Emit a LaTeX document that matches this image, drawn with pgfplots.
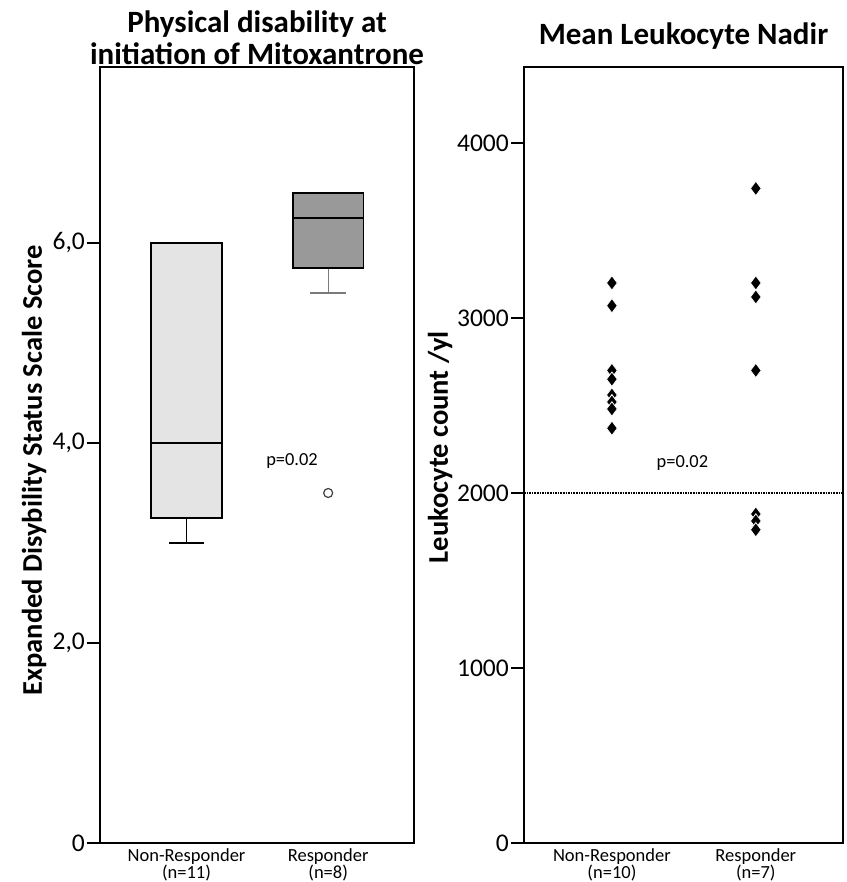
\documentclass[border=0pt]{standalone}
\usepackage{pgfplots}
\pgfplotsset{compat=1.18}
\usepackage{fontspec}
\setmainfont{Carlito}

\definecolor{boxlight}{HTML}{E4E4E4}
\definecolor{boxdark}{HTML}{999999}
\definecolor{whiskergray}{HTML}{7A7A7A}

\pgfplotsset{
  panel/.style={
    scale only axis,
    height=776pt,
    xmin=-0.611, xmax=1.606,
    xtick={0,1},
    xtick style={draw=none},
    ytick pos=left,
    tick align=outside,
    major tick length=13pt,
    axis line style={line width=1.6pt},
    ytick style={line width=1.3pt, black},
    yticklabel style={font=\fontsize{25.5}{25.5}\selectfont, inner sep=2pt},
    xticklabel style={align=center, font=\fontsize{18.5}{15.5}\selectfont,
      inner sep=1pt, yshift=9pt},
    title style={font=\bfseries\fontsize{31}{32}\selectfont, align=center,
      at={(axis description cs:0.5,1)}, anchor=south, inner sep=0pt, yshift=-4pt},
    ylabel style={font=\bfseries\fontsize{28.5}{28.5}\selectfont, anchor=center},
    clip=false,
  },
  boxedge/.style={draw=black, line width=1.8pt, line join=miter},
}

\begin{document}
\begin{tikzpicture}[x=1pt,y=1pt]
\path[use as bounding box] (0,0) rectangle (846,882);

% EDSS at start of therapy
\begin{axis}[panel,
  at={(100pt,39pt)}, anchor=south west,
  width=314pt,
  ymin=0, ymax=7.76,
  ytick={0,2,4,6},
  yticklabels={0,{2,0},{4,0},{6,0}},
  xticklabels={{Non-Responder\\(n=11)},{Responder\\(n=8)}},
  title={Physical disability at\\initiation of Mitoxantrone},
  ylabel={Expanded Disybility Status Scale Score},
  ylabel style={at={(axis description cs:-0.21,0.48)}},
]
% non-responder
\addplot[line width=1.2pt, black] coordinates {(0,3.25) (0,3.0)};
\addplot[line width=1.2pt, black] coordinates {(-0.125,3.0) (0.125,3.0)};
\addplot[boxedge, fill=boxlight] coordinates {(-0.25,3.25) (0.25,3.25) (0.25,6.0) (-0.25,6.0)} -- cycle;
\addplot[line width=1.4pt, black] coordinates {(-0.25,4.0) (0.25,4.0)};
% responder
\addplot[line width=1.2pt, whiskergray] coordinates {(1,5.75) (1,5.5)};
\addplot[line width=1.2pt, whiskergray] coordinates {(0.875,5.5) (1.125,5.5)};
\addplot[boxedge, fill=boxdark] coordinates {(0.75,5.75) (1.25,5.75) (1.25,6.5) (0.75,6.5)} -- cycle;
\addplot[line width=1.8pt, black] coordinates {(0.75,6.25) (1.25,6.25)};
% outlier
\addplot[only marks, mark=o, mark size=4.5pt,
  mark options={draw=black!75, line width=1.2pt}] coordinates {(1,3.5)};
\node[font=\fontsize{18.4}{18}\selectfont] at (axis cs:0.745,3.82) {p=0.02};
\end{axis}

% mean leukocyte nadir
\begin{axis}[panel,
  at={(524pt,39pt)}, anchor=south west,
  width=319pt,
  ymin=0, ymax=4434,
  ytick={0,1000,2000,3000,4000},
  yticklabels={0,1000,2000,3000,4000},
  xticklabels={{Non-Responder\\(n=10)},{Responder\\(n=7)}},
  title={Mean Leukocyte Nadir},
  title style={yshift=15pt},
  ylabel={Leukocyte count /yl},
  ylabel style={at={(axis description cs:-0.263,0.51)}},
]
\addplot[densely dotted, line width=1.6pt] coordinates {(-0.611,2000) (1.606,2000)};
\addplot[only marks, mark=diamond*, mark size=7.2pt,
  mark options={fill=black, draw=white, line width=0.8pt}]
  table[row sep=\\] {
  x y \\
  0 3200 \\ 0 3070 \\ 0 2700 \\ 0 2700 \\ 0 2650 \\
  0 2560 \\ 0 2520 \\ 0 2520 \\ 0 2480 \\ 0 2370 \\
  1 3740 \\ 1 3200 \\ 1 3120 \\ 1 2700 \\
  1 1880 \\ 1 1840 \\ 1 1790 \\
};
\node[font=\fontsize{18.4}{18}\selectfont] at (axis cs:0.49,2171) {p=0.02};
\end{axis}
\end{tikzpicture}
\end{document}
